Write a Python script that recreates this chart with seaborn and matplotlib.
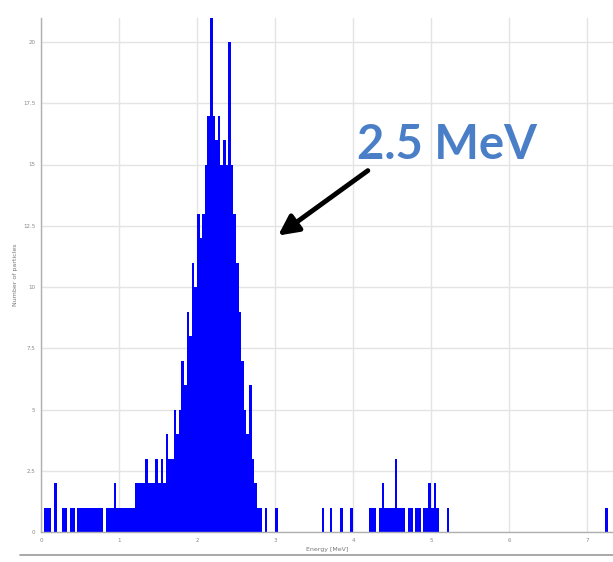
import numpy as np
import pandas as pd
import matplotlib
matplotlib.use("Agg")
import matplotlib.pyplot as plt
from matplotlib.lines import Line2D
import seaborn as sns

# ---- data ----
bin_width_mev = 1 / 30
# counts for contiguous bins starting at 0 MeV
peak_counts = [0, 1, 1, 1, 0, 2, 0, 0, 1, 1,
               0, 1, 1, 0, 1, 1, 1, 1, 1, 1,
               1, 1, 1, 1, 0, 1, 1, 1, 2, 1,
               1, 1, 1, 1, 1, 1, 2, 2, 2, 2,
               3, 2, 2, 2, 3, 2, 3, 2, 4, 3,
               3, 5, 4, 5, 7, 6, 9, 8, 11, 10,
               13, 12, 13, 15, 17, 21, 17, 16, 17, 15,
               16, 15, 20, 15, 13, 11, 9, 7, 5, 4,
               6, 3, 2, 1, 1, 0, 1, 0, 0, 0,
               1]
tail_energy_mev = [3.617, 3.717, 3.85, 3.983, 4.217, 4.25, 4.283, 4.35, 4.383,
                   4.417, 4.45, 4.483, 4.517, 4.55, 4.583, 4.617, 4.65, 4.717,
                   4.75, 4.817, 4.85, 4.917, 4.95, 4.983, 5.017, 5.05, 5.083,
                   5.217, 7.25]
tail_counts = [1, 1, 1, 1, 1, 1, 1, 1, 2,
               1, 1, 1, 1, 3, 1, 1, 1, 1,
               1, 1, 1, 1, 1, 2, 1, 2, 1,
               1, 1]
x_ticks = [0, 1, 2, 3, 4, 5, 6, 7]
y_ticks = [0, 2.5, 5, 7.5, 10, 12.5, 15, 17.5, 20]
annotation_text = "2.5 MeV"
x_label = "Energy [MeV]"
y_label = "Number of particles"

peak_energy = (np.arange(len(peak_counts)) + 0.5) * bin_width_mev
df = pd.DataFrame({
    "energy": np.concatenate([peak_energy, tail_energy_mev]),
    "count": np.concatenate([peak_counts, tail_counts]).astype(float),
})

sns.set_style("white")
W, H = 613, 562
fig = plt.figure(figsize=(W / 100, H / 100), dpi=100)
ax = fig.add_axes([41 / W, 30 / H, (W - 41) / W, (532 - 17.5) / H])

xmax = (W - 41) / 78
n_bins = int(round(xmax / bin_width_mev)) + 1
sns.histplot(data=df, x="energy", weights="count", bins=n_bins,
             binrange=(0, n_bins * bin_width_mev), ax=ax,
             color="#0000ff", alpha=1.0, element="bars", linewidth=0)

ax.set_xlim(0, xmax)
ax.set_ylim(0, 21)
ax.set_xticks(x_ticks)
ax.set_yticks(y_ticks)
ax.set_xticklabels([str(t) for t in x_ticks], fontsize=4, color="#888888")
ax.set_yticklabels([f"{t:g}" for t in y_ticks], fontsize=4, color="#888888")
ax.tick_params(length=2, width=0.5, color="#aaaaaa", pad=2)
ax.grid(True, color="#e4e4e4", linewidth=1.0)
ax.set_axisbelow(True)
for s in ["top", "right"]:
    ax.spines[s].set_visible(False)
for s in ["left", "bottom"]:
    ax.spines[s].set_color("#b0b0b0")
    ax.spines[s].set_linewidth(1.0)
ax.set_xlabel(x_label, fontsize=4.5, color="#777777", labelpad=3)
ax.set_ylabel(y_label, fontsize=4.5, color="#777777", labelpad=4)

# annotation
ax.text(5.2, 15.8, annotation_text, fontsize=34, fontweight="bold",
        family=["Lato", "DejaVu Sans"], color="#4a7fc8",
        ha="center", va="center")
ax.annotate("", xy=(3.04, 12.1), xytext=(4.19, 14.75),
            arrowprops=dict(arrowstyle="-|>,head_length=1.2,head_width=0.6",
                            color="black", lw=3.5, shrinkA=0, shrinkB=0))

fig.add_artist(Line2D([20 / W, 1.0], [1 - 555 / H, 1 - 555 / H],
                      color="#9a9a9a", lw=1.2))

fig.savefig("out.png", dpi=100)
